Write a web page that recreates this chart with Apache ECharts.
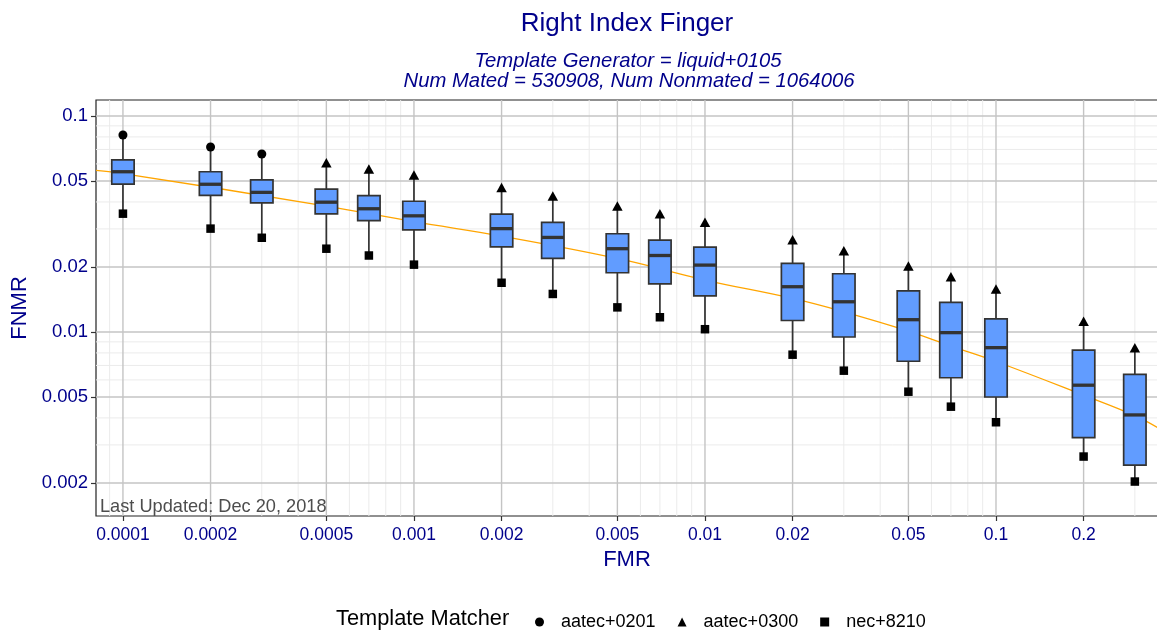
<!DOCTYPE html>
<html>
<head>
<meta charset="utf-8">
<script src="https://cdn.jsdelivr.net/npm/echarts@6/dist/echarts.min.js"></script>
<style>
html,body{margin:0;padding:0;background:#ffffff;}
#chart{width:1157px;height:635px;}
</style>
</head>
<body>
<div id="chart"></div>
<script>
// ---------------- data ----------------
const fmr = [0.0001,0.0002,0.0003,0.0005,0.0007,0.001,0.002,0.003,0.005,0.007,0.01,0.02,0.03,0.05,0.07,0.1,0.2,0.3];
const boxLow    = [0.0353,0.0301,0.0273,0.0243,0.0226,0.0205,0.0169,0.0150,0.0130,0.0117,0.0103,0.00785,0.00662,0.00529,0.00451,0.00382,0.00265,0.00203];
const boxQ1     = [0.0484,0.0429,0.0396,0.0352,0.0328,0.0297,0.0248,0.0219,0.0188,0.0167,0.0147,0.0113,0.00948,0.00732,0.00614,0.00500,0.00324,0.00242];
const boxMedian = [0.0552,0.0483,0.0443,0.0399,0.0372,0.0345,0.0301,0.0274,0.0243,0.0226,0.0204,0.0162,0.0138,0.0114,0.00993,0.00846,0.00567,0.00413];
const boxQ3     = [0.0626,0.0552,0.0506,0.0459,0.0428,0.0403,0.0351,0.0322,0.0285,0.0266,0.0247,0.0208,0.0186,0.0155,0.0137,0.0115,0.00825,0.00637];
const boxHigh   = [0.0817,0.0719,0.0667,0.0608,0.0568,0.0533,0.0466,0.0426,0.0383,0.0353,0.0322,0.0267,0.0238,0.0202,0.0180,0.0158,0.0112,0.00846];

const aatec0201FMR  = [0.0001,0.0002,0.0003];
const aatec0201FNMR = [0.0817,0.0719,0.0667];
const aatec0300FMR  = [0.0005,0.0007,0.001,0.002,0.003,0.005,0.007,0.01,0.02,0.03,0.05,0.07,0.1,0.2,0.3];
const aatec0300FNMR = [0.0608,0.0568,0.0533,0.0466,0.0426,0.0383,0.0353,0.0322,0.0267,0.0238,0.0202,0.0180,0.0158,0.0112,0.00846];
const nec8210FMR    = [0.0001,0.0002,0.0003,0.0005,0.0007,0.001,0.002,0.003,0.005,0.007,0.01,0.02,0.03,0.05,0.07,0.1,0.2,0.3];
const nec8210FNMR   = [0.0353,0.0301,0.0273,0.0243,0.0226,0.0205,0.0169,0.0150,0.0130,0.0117,0.0103,0.00785,0.00662,0.00529,0.00451,0.00382,0.00265,0.00203];

const fitFMR  = [0.0000808,0.0001,0.0005,0.001,0.002,0.005,0.01,0.02,0.03,0.05,0.07,0.1,0.2,0.3,0.36];
const fitFNMR = [0.0560,0.0541,0.0383,0.0324,0.0278,0.0219,0.0174,0.0143,0.0124,0.0101,0.0086,0.0073,0.0051,0.0041,0.0036];

const xTickValues = [0.0001,0.0002,0.0005,0.001,0.002,0.005,0.01,0.02,0.05,0.1,0.2];
const xTickLabels = ['0.0001','0.0002','0.0005','0.001','0.002','0.005','0.01','0.02','0.05','0.1','0.2'];
const yTickValues = [0.002,0.005,0.01,0.02,0.05,0.1];
const yTickLabels = ['0.002','0.005','0.01','0.02','0.05','0.1'];

const xRange = [0.0000808, 0.3603];
const yRange = [0.001406, 0.1186];

// ---------------- helpers ----------------
const L = Math.log10;
const FONT = "'Liberation Sans', Arial, Helvetica, sans-serif";
const BLUE = '#00008B';
const xMin = L(xRange[0]), xMax = L(xRange[1]);
const yMin = L(yRange[0]), yMax = L(yRange[1]);

function minorValues(lo, hi) {
  const out = [];
  for (let e = -6; e <= 0; e++) {
    [3,4,6,7,8,9].forEach(m => {
      const v = m * Math.pow(10, e);
      if (v >= lo && v <= hi) out.push(v);
    });
  }
  return out;
}
const xMinor = minorValues(xRange[0], xRange[1]);
const yMinor = minorValues(yRange[0], yRange[1]);

function labelFor(values, labels) {
  const logs = values.map(L);
  return function (v) {
    for (let i = 0; i < logs.length; i++) if (Math.abs(logs[i] - v) < 1e-6) return labels[i];
    return '';
  };
}

function gridLines(dir, values, color, width, z) {
  return {
    type: 'custom', silent: true, z: z, clip: true,
    data: values.map(v => dir === 'x' ? [L(v), (yMin + yMax) / 2] : [(xMin + xMax) / 2, L(v)]),
    encode: { x: 0, y: 1 },
    renderItem: function (params, api) {
      let p1, p2;
      if (dir === 'x') {
        p1 = api.coord([api.value(0), yMin]); p2 = api.coord([api.value(0), yMax]);
      } else {
        p1 = api.coord([xMin, api.value(1)]); p2 = api.coord([xMax, api.value(1)]);
      }
      return { type: 'line', shape: { x1: p1[0], y1: p1[1], x2: p2[0], y2: p2[1] },
               style: { stroke: color, lineWidth: width } };
    }
  };
}

const boxData = fmr.map((f, i) => [L(f), L(boxLow[i]), L(boxQ1[i]), L(boxMedian[i]), L(boxQ3[i]), L(boxHigh[i])]);

const chart = echarts.init(document.getElementById('chart'), null, { renderer: 'canvas' });

const option = {
  animation: false,
  backgroundColor: '#ffffff',
  textStyle: { fontFamily: FONT },
  grid: { left: 96, top: 100, right: -1, bottom: 119, show: true, borderColor: '#222222', borderWidth: 1.2, backgroundColor: 'transparent', outerBoundsMode: 'none' },
  xAxis: {
    type: 'value', min: xMin, max: xMax,
    name: 'FMR', nameLocation: 'middle', nameGap: 30,
    nameTextStyle: { color: BLUE, fontSize: 22, fontFamily: FONT },
    axisLine: { show: false },
    axisTick: { show: true, length: 5, customValues: xTickValues.map(L), lineStyle: { color: '#333333', width: 1.2 } },
    axisLabel: { customValues: xTickValues.map(L), formatter: labelFor(xTickValues, xTickLabels), color: BLUE, fontSize: 17.5, fontFamily: FONT, margin: 10 },
    splitLine: { show: false }
  },
  yAxis: {
    type: 'value', min: yMin, max: yMax,
    name: 'FNMR', nameLocation: 'middle', nameGap: 60, nameRotate: 90,
    nameTextStyle: { color: BLUE, fontSize: 22, fontFamily: FONT },
    axisLine: { show: false },
    axisTick: { show: true, length: 5, customValues: yTickValues.map(L), lineStyle: { color: '#333333', width: 1.2 } },
    axisLabel: { customValues: yTickValues.map(L), formatter: labelFor(yTickValues, yTickLabels), color: BLUE, fontSize: 18.5, fontFamily: FONT, margin: 8 },
    splitLine: { show: false }
  },
  legend: {
    left: 530, top: 608, itemWidth: 9, itemHeight: 9, itemGap: 22,
    formatter: '{g| }{name}',
    textStyle: { fontSize: 18, color: '#000000', fontFamily: FONT, rich: { g: { width: 12 } } },
    itemStyle: { color: '#000000', opacity: 1 },
    data: [
      { name: 'aatec+0201', icon: 'circle' },
      { name: 'aatec+0300', icon: 'triangle' },
      { name: 'nec+8210', icon: 'rect' }
    ],
    selectedMode: false
  },
  graphic: [
    { type: 'text', x: 627, y: 24, silent: true,
      style: { text: 'Right Index Finger', fill: BLUE, font: '26px ' + FONT, align: 'center', verticalAlign: 'middle' } },
    { type: 'text', x: 628, y: 61, silent: true,
      style: { text: 'Template Generator = liquid+0105', fill: BLUE, font: 'italic 20.3px ' + FONT, align: 'center', verticalAlign: 'middle' } },
    { type: 'text', x: 629, y: 81, silent: true,
      style: { text: 'Num Mated = 530908, Num Nonmated = 1064006', fill: BLUE, font: 'italic 20.3px ' + FONT, align: 'center', verticalAlign: 'middle' } },
    { type: 'text', x: 100, y: 507, silent: true, z: 100,
      style: { text: 'Last Updated: Dec 20, 2018', fill: '#4D4D4D', font: '18.2px ' + FONT, align: 'left', verticalAlign: 'middle' } },
    { type: 'text', x: 336, y: 619, silent: true,
      style: { text: 'Template Matcher', fill: '#000000', font: '21.8px ' + FONT, align: 'left', verticalAlign: 'middle' } }
  ],
  series: [
    gridLines('x', xMinor, '#EBEBEB', 1, 1),
    gridLines('y', yMinor, '#EBEBEB', 1, 1),
    gridLines('x', xTickValues, '#C4C4C4', 1.4, 1),
    gridLines('y', yTickValues, '#C4C4C4', 1.4, 1),
    {
      name: 'fit', type: 'line', z: 3, smooth: 0.4, showSymbol: false, silent: true, clip: true,
      data: fitFMR.map((x, i) => [L(x), L(fitFNMR[i])]),
      lineStyle: { color: '#FFA500', width: 1.3 }
    },
    {
      name: 'boxes', type: 'custom', z: 4, silent: true,
      data: boxData,
      encode: { x: 0, y: [1, 2, 3, 4, 5] },
      renderItem: function (params, api) {
        const xv = api.value(0);
        const x = api.coord([xv, api.value(3)])[0];
        const yLo = api.coord([xv, api.value(1)])[1];
        const yQ1 = api.coord([xv, api.value(2)])[1];
        const yMed = api.coord([xv, api.value(3)])[1];
        const yQ3 = api.coord([xv, api.value(4)])[1];
        const yHi = api.coord([xv, api.value(5)])[1];
        const hw = 11.2;
        const edge = { stroke: '#333333', lineWidth: 1.7 };
        return {
          type: 'group',
          children: [
            { type: 'line', shape: { x1: x, y1: yHi, x2: x, y2: yQ3 }, style: edge },
            { type: 'line', shape: { x1: x, y1: yQ1, x2: x, y2: yLo }, style: edge },
            { type: 'rect', shape: { x: x - hw, y: yQ3, width: 2 * hw, height: yQ1 - yQ3 },
              style: { fill: '#619CFF', stroke: '#333333', lineWidth: 1.7 } },
            { type: 'line', shape: { x1: x - hw, y1: yMed, x2: x + hw, y2: yMed },
              style: { stroke: '#333333', lineWidth: 3.3 } }
          ]
        };
      }
    },
    {
      name: 'aatec+0201', type: 'scatter', z: 5, symbol: 'circle', symbolSize: 9, silent: true,
      itemStyle: { color: '#000000', opacity: 1 },
      data: aatec0201FMR.map((x, i) => [L(x), L(aatec0201FNMR[i])])
    },
    {
      name: 'aatec+0300', type: 'scatter', z: 5, symbol: 'triangle', symbolSize: [10.5, 9.5], silent: true,
      itemStyle: { color: '#000000', opacity: 1 },
      data: aatec0300FMR.map((x, i) => [L(x), L(aatec0300FNMR[i])])
    },
    {
      name: 'nec+8210', type: 'scatter', z: 5, symbol: 'rect', symbolSize: 8.5, silent: true,
      itemStyle: { color: '#000000', opacity: 1 },
      data: nec8210FMR.map((x, i) => [L(x), L(nec8210FNMR[i])])
    }
  ]
};
chart.setOption(option);
</script>
</body>
</html>
